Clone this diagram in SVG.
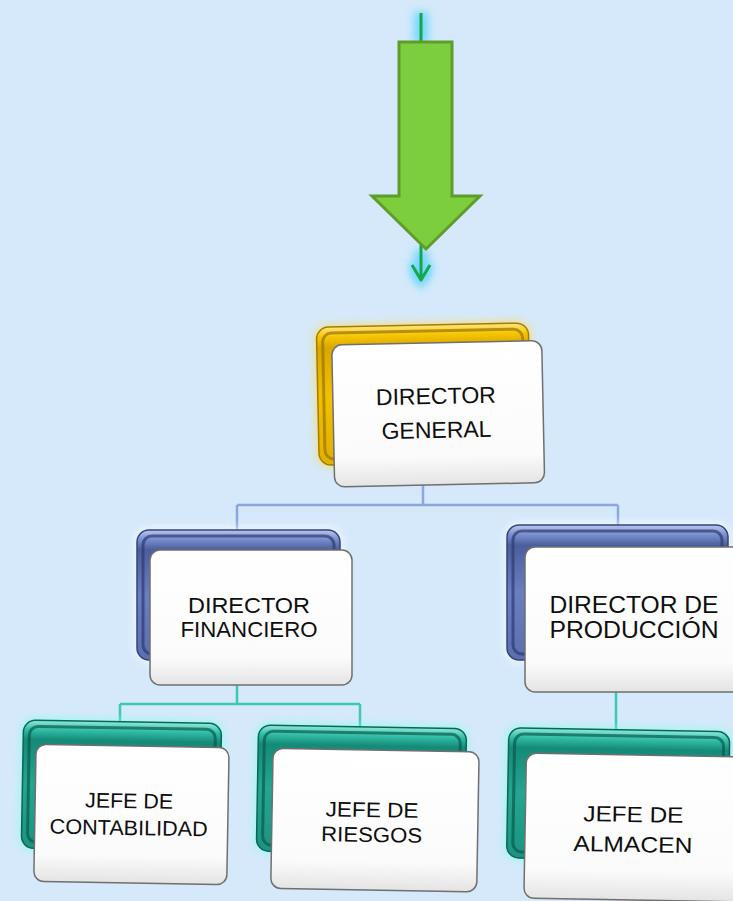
<svg xmlns="http://www.w3.org/2000/svg" width="733" height="901" viewBox="0 0 733 901">
<defs>
<style>
.card{fill:url(#cardg);stroke:#6f6f6f;stroke-width:1.5}
.txt{font-family:"Liberation Sans",Arial,sans-serif;fill:#0e0e0e;text-anchor:middle}
.bl{fill:none;stroke:#8ca6e4;stroke-width:2.5}
.tl{fill:none;stroke:#3cc8b4;stroke-width:2.5}
.gold{fill:url(#goldg);stroke:#a57c00;stroke-width:1.5}
.blue{fill:url(#blueg);stroke:#34437a;stroke-width:1.5}
.teal{fill:url(#tealg);stroke:#0c6557;stroke-width:1.5}
.bev{fill:none;stroke-width:3;opacity:0.7}
</style>
<linearGradient id="cardg" x1="0" y1="0" x2="0" y2="1">
<stop offset="0" stop-color="#ffffff"/><stop offset="0.8" stop-color="#fbfbfb"/><stop offset="1" stop-color="#e4e4e4"/>
</linearGradient>
<linearGradient id="goldg" x1="0" y1="0" x2="0" y2="1">
<stop offset="0" stop-color="#ffe680"/><stop offset="0.07" stop-color="#f7c600"/><stop offset="0.15" stop-color="#d9a800"/><stop offset="0.5" stop-color="#f0c000"/><stop offset="1" stop-color="#e1b000"/>
</linearGradient>
<linearGradient id="blueg" x1="0" y1="0" x2="0" y2="1">
<stop offset="0" stop-color="#b8c7ef"/><stop offset="0.07" stop-color="#7b90cf"/><stop offset="0.15" stop-color="#4c5e9c"/><stop offset="0.5" stop-color="#6a7fc0"/><stop offset="1" stop-color="#5a6eb0"/>
</linearGradient>
<linearGradient id="tealg" x1="0" y1="0" x2="0" y2="1">
<stop offset="0" stop-color="#8eeadb"/><stop offset="0.07" stop-color="#33bfa8"/><stop offset="0.15" stop-color="#158a78"/><stop offset="0.5" stop-color="#24a690"/><stop offset="1" stop-color="#1a9480"/>
</linearGradient>
<filter id="glow" filterUnits="userSpaceOnUse" x="0" y="0" width="733" height="901">
<feGaussianBlur stdDeviation="4"/>
</filter>
</defs>
<rect width="733" height="901" fill="#d5e9fb"/>

<g id="top-arrow">
<path d="M421,12 V44 M421,250 V281" stroke="#6fd8ff" stroke-width="14" filter="url(#glow)" fill="none"/>
<path d="M412,264 L421,280 L430,264" stroke="#6fd8ff" stroke-width="10" filter="url(#glow)" fill="none"/>
<path d="M421,13 V44" stroke="#14a84a" stroke-width="3" fill="none"/>
<path d="M421,245 V279 M412,265 L421,280 L430,265" stroke="#14a84a" stroke-width="3" fill="none" stroke-linejoin="round"/>
<polygon points="399,42 452,42 452,196 480,196 426,249 372,196 399,196" fill="#7dce3c" stroke="#5f9c2c" stroke-width="3" stroke-linejoin="miter"/>
</g>

<g id="connectors">
<path class="bl" d="M423,485 V505 M237,505 H618 M237,505 V530 M618,505 V525"/>
<path class="tl" d="M237,685 V704 M120,704 H360 M120,704 V722 M360,704 V727 M616,692 V730"/>
</g>

<g id="director-general" transform="rotate(-1.2 430 405)">
<rect x="316" y="323" width="216" height="142" rx="13" fill="#ffd84a" opacity="0.7" filter="url(#glow)"/>
<rect class="gold" x="318" y="325" width="212" height="138" rx="12"/>
<rect class="bev" x="324" y="331" width="200" height="126" rx="9" stroke="#9a7400"/>
<rect class="card" x="333" y="343" width="210" height="142" rx="10"/>
<text class="txt" x="436" y="404" font-size="23" textLength="120" lengthAdjust="spacingAndGlyphs">DIRECTOR</text>
<text class="txt" x="436" y="438" font-size="23" textLength="110" lengthAdjust="spacingAndGlyphs">GENERAL</text>
</g>

<g id="director-financiero">
<rect x="135" y="528" width="207" height="134" rx="13" fill="#ffffff" opacity="0.7" filter="url(#glow)"/>
<rect class="blue" x="137" y="530" width="203" height="130" rx="12"/>
<rect class="bev" x="143" y="536" width="191" height="118" rx="9" stroke="#2e3b6e"/>
<rect class="card" x="150" y="550" width="202" height="135" rx="10"/>
<text class="txt" x="249" y="613" font-size="22" textLength="122" lengthAdjust="spacingAndGlyphs">DIRECTOR</text>
<text class="txt" x="249" y="637" font-size="22" textLength="137" lengthAdjust="spacingAndGlyphs">FINANCIERO</text>
</g>

<g id="director-produccion">
<rect x="505" y="523" width="225" height="139" rx="13" fill="#ffffff" opacity="0.7" filter="url(#glow)"/>
<rect class="blue" x="507" y="525" width="221" height="135" rx="12"/>
<rect class="bev" x="513" y="531" width="209" height="123" rx="9" stroke="#2e3b6e"/>
<rect class="card" x="525" y="547" width="220" height="145" rx="10"/>
<text class="txt" x="634" y="613" font-size="23" textLength="169" lengthAdjust="spacingAndGlyphs">DIRECTOR DE</text>
<text class="txt" x="634" y="638" font-size="23" textLength="169" lengthAdjust="spacingAndGlyphs">PRODUCCIÓN</text>
</g>

<g id="jefe-contabilidad" transform="rotate(1 130 810)">
<rect x="20" y="720" width="202" height="132" rx="13" fill="#7fffe8" opacity="0.7" filter="url(#glow)"/>
<rect class="teal" x="22" y="722" width="198" height="128" rx="12"/>
<rect class="bev" x="28" y="728" width="186" height="116" rx="9" stroke="#0a5a4e"/>
<rect class="card" x="35" y="746" width="193" height="137" rx="10"/>
<text class="txt" x="129" y="808" font-size="21" textLength="88" lengthAdjust="spacingAndGlyphs">JEFE DE</text>
<text class="txt" x="129" y="835" font-size="21" textLength="158" lengthAdjust="spacingAndGlyphs">CONTABILIDAD</text>
</g>

<g id="jefe-riesgos" transform="rotate(1 372 815)">
<rect x="255" y="725" width="212" height="130" rx="13" fill="#7fffe8" opacity="0.7" filter="url(#glow)"/>
<rect class="teal" x="257" y="727" width="208" height="126" rx="12"/>
<rect class="bev" x="263" y="733" width="196" height="114" rx="9" stroke="#0a5a4e"/>
<rect class="card" x="272" y="750" width="206" height="140" rx="10"/>
<text class="txt" x="372" y="817" font-size="21" textLength="93" lengthAdjust="spacingAndGlyphs">JEFE DE</text>
<text class="txt" x="372" y="842" font-size="21" textLength="101" lengthAdjust="spacingAndGlyphs">RIESGOS</text>
</g>

<g id="jefe-almacen" transform="rotate(1 633 835)">
<rect x="505" y="728" width="225" height="134" rx="13" fill="#7fffe8" opacity="0.7" filter="url(#glow)"/>
<rect class="teal" x="507" y="730" width="221" height="130" rx="12"/>
<rect class="bev" x="513" y="736" width="209" height="118" rx="9" stroke="#0a5a4e"/>
<rect class="card" x="525" y="755" width="220" height="145" rx="10"/>
<text class="txt" x="633" y="822" font-size="22" textLength="100" lengthAdjust="spacingAndGlyphs">JEFE DE</text>
<text class="txt" x="633" y="852" font-size="22" textLength="119" lengthAdjust="spacingAndGlyphs">ALMACEN</text>
</g>
</svg>
